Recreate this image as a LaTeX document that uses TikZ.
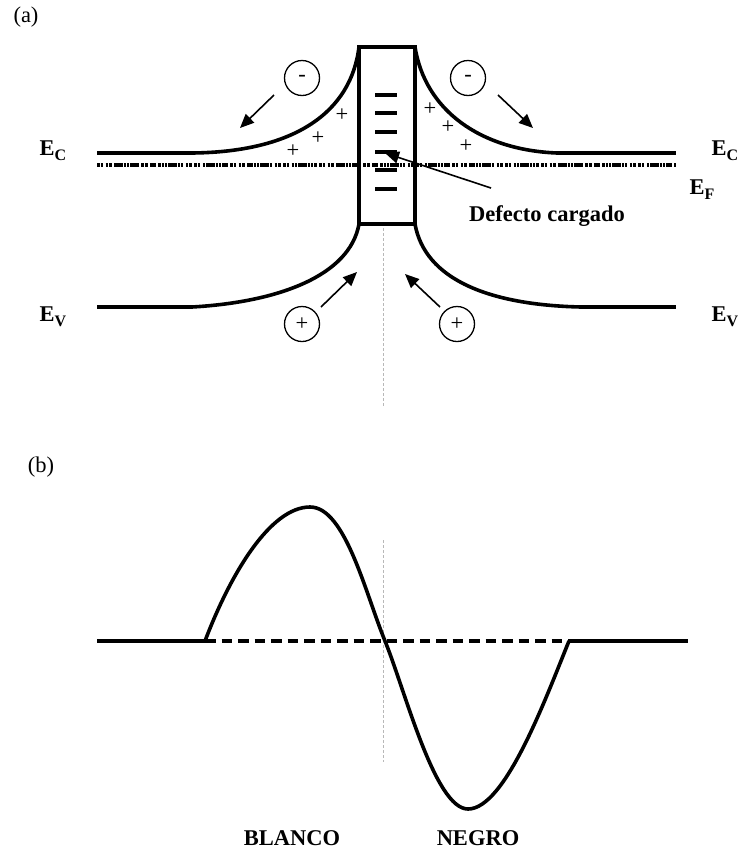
\documentclass[tikz,border=0pt]{standalone}
\usepackage{fontspec}
\setmainfont{Liberation Serif}
\usetikzlibrary{arrows.meta}
\definecolor{inkblack}{HTML}{000000}
\definecolor{axisgray}{HTML}{B8B8B8}
\newcommand{\bandsub}[1]{\raisebox{-5pt}{\fontsize{16}{16}\selectfont #1}}

\begin{document}
\begin{tikzpicture}[
  x=1pt, y=-1pt,
  font=\fontsize{22.5}{26}\selectfont,
  every node/.style={text=inkblack},
  band/.style={line width=4.2pt, color=inkblack},
  bendline/.style={line width=3.6pt, color=inkblack},
  level/.style={line width=4pt, color=inkblack},
  fermi/.style={
    line width=4pt, color=inkblack,
    dash pattern=on 2.6pt off 0.9pt on 2.6pt off 2.4pt on 2.6pt off 0.9pt on 2.6pt off 2.4pt
                 on 2.6pt off 0.6pt on 2.6pt off 0.6pt on 2.6pt off 0.6pt on 2.6pt off 0.6pt
                 on 2.6pt off 0.6pt on 2.6pt off 0.6pt on 2.6pt off 0.6pt on 2.6pt off 2.4pt
  },
  carrier/.style={
    circle, draw=inkblack, line width=1.3pt,
    minimum size=35pt, inner sep=0pt
  },
  drift/.style={
    -{Triangle[length=14pt, width=12pt]}, line width=1.6pt, color=inkblack
  },
  axis/.style={axisgray, line width=0.8pt, dash pattern=on 3pt off 2pt},
  elabel/.style={font=\fontsize{22.5}{26}\selectfont\bfseries},
  profile/.style={line width=3.6pt, color=inkblack, line join=round},
  zeroline/.style={line width=3.4pt, color=inkblack, dash pattern=on 10.5pt off 6pt}
]
\useasboundingbox (0,0) rectangle (740,852);

% ── Panel labels ──────────────────────────────────────────────────────────
\node (tagA) at (26,17) {(a)};
\node (tagB) at (41,467) {(b)};

% ── Band edges (a) ────────────────────────────────────────────────────────
\coordinate (ecL)  at (97,153);
\coordinate (ecLk) at (192,153);
\coordinate (ecRk) at (557,153);
\coordinate (ecR)  at (676,153);
\coordinate (evL)  at (97,307);
\coordinate (evLk) at (192,307);
\coordinate (evRk) at (581,307);
\coordinate (evR)  at (676,307);
\coordinate (boxTL) at (359,47);
\coordinate (boxTR) at (415,47);
\coordinate (boxBL) at (359,224);
\coordinate (boxBR) at (415,224);

\draw[fermi] (97,165) -- (676,165);

\draw[band] (ecL) -- (ecLk);
\draw[bendline] (ecLk) .. controls (295,152) and (351,112) .. (boxTL);
\draw[bendline] (boxTR) .. controls (425,110) and (480,150) .. (ecRk);
\draw[band] (ecRk) -- (ecR);

\draw[band] (evL) -- (evLk);
\draw[bendline] (evLk) .. controls (280,302) and (350,275) .. (boxBL);
\draw[bendline] (boxBR) .. controls (425,280) and (490,305) .. (evRk);
\draw[band] (evRk) -- (evR);

% ── Defect column ─────────────────────────────────────────────────────────
\draw[band] (boxTL) rectangle (boxBR);
\foreach \yy in {95,113,132,152,170,189}
  \draw[level] (375,\yy) -- (397,\yy);

\draw[axis] (383,228) -- (383,407);

% ── Level labels ──────────────────────────────────────────────────────────
\node[elabel] (ecLab)  at (53,151)  {E\bandsub{C}};
\node[elabel] (ecRab)  at (725,151) {E\bandsub{C}};
\node[elabel] (efRab)  at (702,190) {E\bandsub{F}};
\node[elabel] (evLab)  at (53,317)  {E\bandsub{V}};
\node[elabel] (evRab)  at (725,317) {E\bandsub{V}};

% ── Carriers and drift arrows ─────────────────────────────────────────────
\node[carrier] (elecL) at (302,78)  {-};
\node[carrier] (elecR) at (468,78)  {-};
\node[carrier] (holeL) at (302,324) {+};
\node[carrier] (holeR) at (457,324) {+};

\coordinate (elecLs) at (274,95);
\coordinate (elecLe) at (240,128);
\coordinate (elecRs) at (498,95);
\coordinate (elecRe) at (533,128);
\coordinate (holeLs) at (321,307);
\coordinate (holeLe) at (357,272);
\coordinate (holeRs) at (440,307);
\coordinate (holeRe) at (405,274);

\draw[drift] (elecLs) -- (elecLe);
\draw[drift] (elecRs) -- (elecRe);
\draw[drift] (holeLs) -- (holeLe);
\draw[drift] (holeRs) -- (holeRe);

% ── Space charge ──────────────────────────────────────────────────────────
\node (qL1) at (342,115) {+};
\node (qL2) at (318,138) {+};
\node (qL3) at (293,151) {+};
\node (qR1) at (430,109) {+};
\node (qR2) at (448,127) {+};
\node (qR3) at (466,146) {+};

% ── Defect label ──────────────────────────────────────────────────────────
\node[font=\fontsize{22.5}{26}\selectfont\bfseries] (defect) at (547,216) {Defecto cargado};
\coordinate (defectTip) at (385,153);
\coordinate (defectTail) at (491,188);
\draw[drift] (defectTail) -- (defectTip);

% ── Contrast profile (b) ──────────────────────────────────────────────────
\coordinate (zL)   at (97,641);
\coordinate (zLk)  at (205,641);
\coordinate (peak) at (310,507);
\coordinate (zMid) at (385,641);
\coordinate (dip)  at (468,809);
\coordinate (zRk)  at (569,641);
\coordinate (zR)   at (688,641);

\draw[axis] (383,540) -- (383,762);
\draw[zeroline] (zLk) -- (zRk);
\draw[line width=4.6pt] (zL) -- (zLk);
\draw[line width=4.6pt] (zRk) -- (zR);
\draw[profile] (zLk) .. controls (230,575) and (270,507) .. (peak)
                     .. controls (345,507) and (365,592) .. (zMid)
                     .. controls (405,690) and (435,809) .. (dip)
                     .. controls (505,809) and (545,700) .. (zRk);

\node[font=\fontsize{22.5}{26}\selectfont\bfseries] (white) at (292,838) {BLANCO};
\node[font=\fontsize{22.5}{26}\selectfont\bfseries] (black) at (478,838) {NEGRO};

\end{tikzpicture}
\end{document}
